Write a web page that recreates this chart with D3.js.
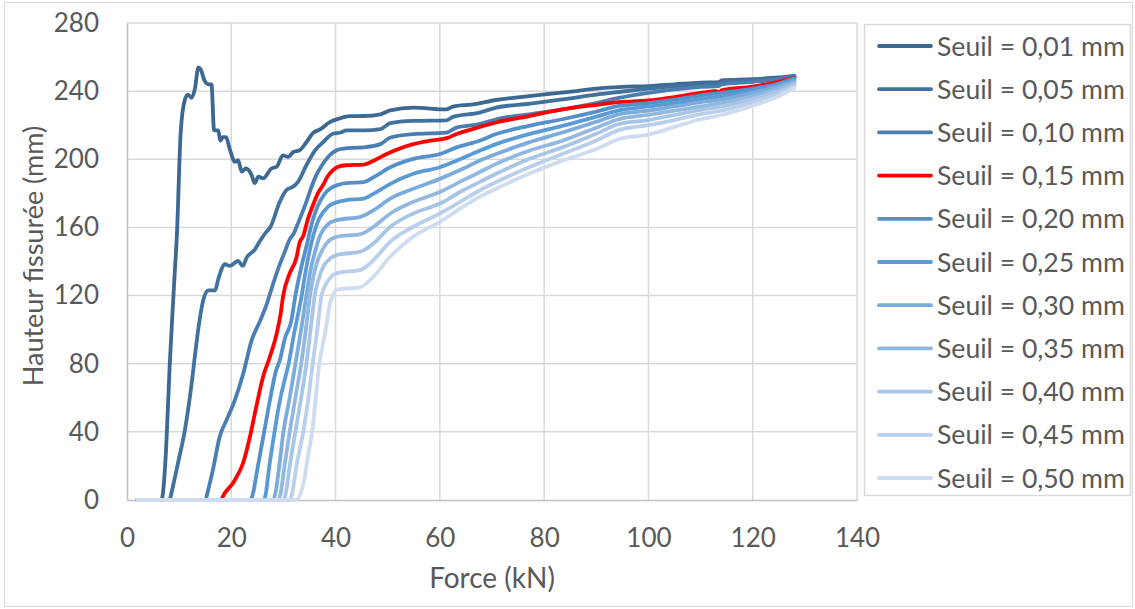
<!DOCTYPE html>
<html><head><meta charset="utf-8">
<script src="https://cdn.jsdelivr.net/npm/d3@7"></script>
<style>
html,body{margin:0;padding:0;background:#fff;}
text{font-family:Lato,Carlito,sans-serif;fill:#595959;}
</style></head>
<body><svg id="c" width="1135" height="609"></svg>
<script>
const xTicks = [0,20,40,60,80,100,120,140];
const yTicks = [0,40,80,120,160,200,240,280];
const seriesNames = ["Seuil = 0,01 mm","Seuil = 0,05 mm","Seuil = 0,10 mm","Seuil = 0,15 mm","Seuil = 0,20 mm","Seuil = 0,25 mm","Seuil = 0,30 mm","Seuil = 0,35 mm","Seuil = 0,40 mm","Seuil = 0,45 mm","Seuil = 0,50 mm"];
const seriesColors = ["#3c6891","#41729e","#4a7db0","#ff0000","#5590cb","#5b9bd5","#7cacdc","#93b8e0","#a9c5e6","#bacfec","#cfdcf0"];

const s001 = [[2,0],[6.6,0],[6.8,2],[7.5,30],[8.2,80],[9,125],[9.6,158],[10.3,216],[11.1,235],[11.7,238],[12.4,236],[13,241],[13.7,254],[14.1,253],[14.9,246],[15.6,244],[16.2,244],[16.7,217],[17.5,217],[17.9,211],[18.4,213],[19,213],[19.7,206],[20.7,198.5],[21.3,199.5],[22,192.7],[22.8,194.6],[23.9,190.8],[24.5,186],[25.2,189.8],[26.1,188.8],[27.7,194.6],[28.7,195.6],[29.9,202.3],[30.9,201.4],[31.9,204.3],[33.1,205.3],[34.4,210],[35.7,215.5],[37,217.5],[38.9,221.8],[40.8,224],[42.7,225.3],[45.4,225.4],[48.6,226.4],[50.5,228.7],[54.9,230.3],[61.3,229.3],[62.5,230.9],[66.3,232.2],[70.8,234.8],[77.1,237.1],[84.8,239.6],[90,241.5],[95,242.5],[100,243],[105,244],[110,245],[113.5,245.3],[114,246.3],[120,247],[125,248],[128,249]];
const s005 = [[2,0],[8.2,0],[8.4,2.5],[9.8,22],[11.1,41],[12.4,68.5],[13,84],[13.7,101],[14.6,117],[15.6,123],[16.9,123],[17.5,129.6],[18.8,138.4],[19.7,137.4],[21.3,140.3],[22.2,137.4],[22.9,142],[24.5,147],[25.5,152],[26.8,157.7],[27.4,159.7],[29.3,175],[30.6,182],[31.9,184],[32.8,186.8],[34.4,196.5],[36,205],[37.6,210],[39.5,215],[41,215.7],[42.1,217],[45.4,217],[48.6,217.7],[50.5,221.2],[54.9,222.5],[61.3,222.9],[62.5,224.9],[67.6,227.4],[70.8,230.3],[77.1,232.6],[83.5,235.1],[90,238],[94.3,239.5],[100,241.5],[105,243],[110,244],[113.5,244.5],[114,245.5],[120,246.5],[125,247.5],[128,248.8]];
const s010 = [[2,0],[15.1,0],[15.3,2.5],[16.5,18],[17.8,37.4],[19.1,47],[20.7,58.8],[22.3,74.3],[23.9,93.7],[25.5,105],[26.8,115],[28,126.7],[29.3,138.3],[30.3,146],[31.2,153],[31.9,156],[33,164],[34.4,175],[35.3,183],[36.3,190.7],[37.3,196],[38.3,200.4],[39.3,203.5],[40.2,205.3],[41.5,206.3],[45.4,207],[48.6,208.9],[50.5,212.8],[54.9,214.8],[61.3,215.7],[63.2,218.6],[67.6,220.6],[70.8,223.5],[77.1,226.4],[83.5,229.3],[90,233],[94.3,236],[100,239],[105,241],[110,242.5],[113.5,243],[114,244],[120,245.5],[125,247],[128,248.5]];
const s015 = [[2,0],[18.1,0],[18.3,1.5],[20.4,10.3],[22.3,22],[23.6,37.4],[24.8,54.9],[26.1,72.4],[27.4,84],[28.7,97.6],[29.5,110],[29.9,119],[31.2,133],[32.5,142.2],[33.1,151],[33.8,155],[34.7,165],[35.7,173.3],[36.6,180],[37.6,184.9],[38.5,190],[39.5,193.6],[40.5,195.6],[42,196.5],[45.4,196.9],[47.3,199.2],[49.8,203.1],[54.9,208.9],[58.1,210.9],[61.3,212.4],[63.2,214.8],[66.3,217.7],[70.8,221.6],[77.1,225.4],[83.5,229.3],[90,232],[94.3,233.6],[100,234.5],[105,236.5],[110,239],[113,240],[113.5,239],[114,240.5],[120,242.7],[125,245.5],[128,247.8]];
const s020 = [[2,0],[23.6,0],[24,2],[25,18],[26.3,40],[27.5,60],[28.5,75],[29.3,82],[30.3,95],[31.5,105],[32.3,120],[33.3,135],[34.5,150],[35.5,163],[36.5,172],[38,180],[39.3,183.5],[40.5,185],[42,186],[45.4,186.6],[47.3,189.5],[50.5,195.3],[54.9,200.2],[60,203.1],[63.2,207],[67.6,210.9],[70.8,214.8],[77.1,219.6],[83.5,223.5],[90,228],[94.3,231.3],[100,233],[105,235],[110,237.5],[114,239],[120,241.5],[125,244.5],[128,247.5]];
const s025 = [[2,0],[26.1,0],[26.5,2],[27.3,20],[28.3,40],[29.3,58],[30.2,70],[31,80],[32,97],[33,112],[33.5,120],[34.3,135],[35.3,150],[36.2,160],[37,166],[38.5,172],[40.5,175],[42,176],[45.4,176.9],[47.3,179.8],[50.5,185.6],[54.9,191.5],[60,195.3],[63.2,199.2],[67.6,205],[70.8,208.9],[77.1,214.8],[83.5,219.6],[90,225],[94.3,228.7],[100,231],[105,233],[110,235.5],[114,237],[120,240.5],[125,244],[128,247]];
const s030 = [[2,0],[28,0],[28.4,3],[29.2,20],[30,40],[31.2,60],[32.3,80],[33.4,100],[34.4,120],[35.2,135],[36,145],[37,155],[38,160],[39,163],[40.3,164.3],[44.8,166.2],[47.3,170.1],[50.5,176.9],[54.9,182.7],[60,188.5],[64.4,194.4],[67.6,199.2],[70.8,203.1],[77.1,209.9],[83.5,215.7],[90,222],[94.3,226.4],[100,228.5],[105,231],[110,233.5],[114,235],[120,239],[125,243],[128,246]];
const s035 = [[2,0],[29,0],[29.4,3],[30.2,20],[31.2,40],[32.3,60],[33.4,80],[34.3,100],[35.1,120],[35.8,132],[36.5,140],[37.5,147],[38.5,151.5],[40.3,154.6],[44.8,156.1],[47.3,160.4],[50.5,168.2],[54.9,175],[60,180.8],[64.4,187.6],[67.6,192.4],[70.8,197.3],[77.1,205],[83.5,210.9],[90,218.5],[94.3,223.5],[100,226],[105,228.5],[110,231],[114,233],[120,237],[125,241.5],[128,245]];
const s040 = [[2,0],[30,0],[30.4,3],[31.2,20],[32.3,40],[33.4,60],[34.4,80],[35.2,100],[36,120],[36.8,130],[37.5,136],[38.5,140.5],[40.3,143.9],[44.8,145.8],[47.3,150.7],[50.5,160.4],[54.9,168.2],[60,174],[64.4,181.7],[67.6,186.6],[70.8,191.5],[77.1,200.2],[83.5,207],[90,215],[94.3,220.6],[100,223],[105,226],[110,229],[114,231],[120,235.5],[125,240],[128,244]];
const s045 = [[2,0],[31.2,0],[31.6,3],[32.5,20],[33.8,40],[34.8,60],[35.6,80],[36.5,100],[37.3,120],[38.2,127],[39.3,131.5],[40.3,133.2],[44.8,135.1],[47.3,141],[50.5,151.7],[54.9,160.4],[60,168.2],[64.4,175.9],[67.6,181.7],[70.8,186.6],[77.1,195.3],[83.5,203.1],[90,211],[94.3,217.1],[100,220],[105,223],[110,226.5],[114,228.5],[120,233.5],[125,238.5],[128,243]];
const s050 = [[2,0],[32.5,0],[33.3,4],[34,12],[34.5,22],[35.5,40],[36.9,80],[38.1,100],[38.9,115],[39.5,120],[40.3,123.5],[44.8,125],[47.3,131.3],[50.5,142.9],[54.9,154.6],[60,163.3],[64.4,172],[67.6,177.9],[70.8,182.7],[77.1,191.5],[83.5,199.2],[90,206],[94.3,211.8],[100,214.5],[105,219],[110,223.5],[114,226],[120,231.5],[125,237],[128,242]];
const seriesData = [s001,s005,s010,s015,s020,s025,s030,s035,s040,s045,s050];

const FONT = "Lato,Carlito,sans-serif";
const svg = d3.select("#c");
const W=1135,H=609;
svg.append("rect").attr("x",0).attr("y",0).attr("width",W).attr("height",H).attr("fill","#fff");
svg.append("rect").attr("x",4.5).attr("y",2.5).attr("width",1128).attr("height",604).attr("fill","none").attr("stroke","#d9d9d9");

const x = d3.scaleLinear().domain([0,140]).range([127,857]);
const y = d3.scaleLinear().domain([0,280]).range([500,23]);

// grid
svg.append("g").selectAll("line").data(yTicks.slice(1)).join("line")
  .attr("x1",x(0)).attr("x2",x(140)).attr("y1",d=>y(d)).attr("y2",d=>y(d))
  .attr("stroke","#d9d9d9").attr("stroke-width",1.5);
svg.append("g").selectAll("line").data(xTicks.slice(1)).join("line")
  .attr("y1",y(0)).attr("y2",y(280)).attr("x1",d=>x(d)).attr("x2",d=>x(d))
  .attr("stroke","#d9d9d9").attr("stroke-width",1.5);

// axes
const xa = svg.append("g").attr("transform",`translate(0,${y(0)})`)
  .call(d3.axisBottom(x).tickValues(xTicks).tickSize(0).tickPadding(29));
const ya = svg.append("g").attr("transform",`translate(${x(0)},0)`)
  .call(d3.axisLeft(y).tickValues(yTicks).tickSize(0).tickPadding(28));
[xa,ya].forEach(a=>{a.select(".domain").attr("stroke","#bfbfbf").attr("stroke-width",1.5);
  a.selectAll("text").style("font-size","26px").style("fill","#595959").style("font-family",FONT);});

svg.append("text").attr("x",492).attr("y",588).attr("text-anchor","middle").style("font-size","28px").text("Force (kN)");
svg.append("text").attr("transform","translate(43,256) rotate(-90)").attr("text-anchor","middle").style("font-size","27px").text("Hauteur fissurée (mm)");

// lines
const line = d3.line().x(d=>x(d[0])).y(d=>y(d[1])).curve(d3.curveMonotoneX);
svg.append("g").selectAll("path").data(seriesData).join("path")
  .attr("d",line).attr("fill","none")
  .attr("stroke",(d,i)=>seriesColors[i]).attr("stroke-width",3.8)
  .attr("stroke-linejoin","round").attr("stroke-linecap","round");

// legend
svg.append("rect").attr("x",864.5).attr("y",24.5).attr("width",266).attr("height",471).attr("fill","#fff").attr("stroke","#d9d9d9").attr("stroke-width",1.5);
const lg = svg.append("g").selectAll("g").data(seriesNames).join("g")
  .attr("transform",(d,i)=>`translate(0,${46+i*43.2})`);
lg.append("line").attr("x1",879).attr("x2",931).attr("y1",0).attr("y2",0)
  .attr("stroke",(d,i)=>seriesColors[i]).attr("stroke-width",3.8).attr("stroke-linecap","round");
lg.append("text").attr("x",937).attr("y",0).attr("dy","0.36em").style("font-size","26.6px").text(d=>d);
</script></body></html>
